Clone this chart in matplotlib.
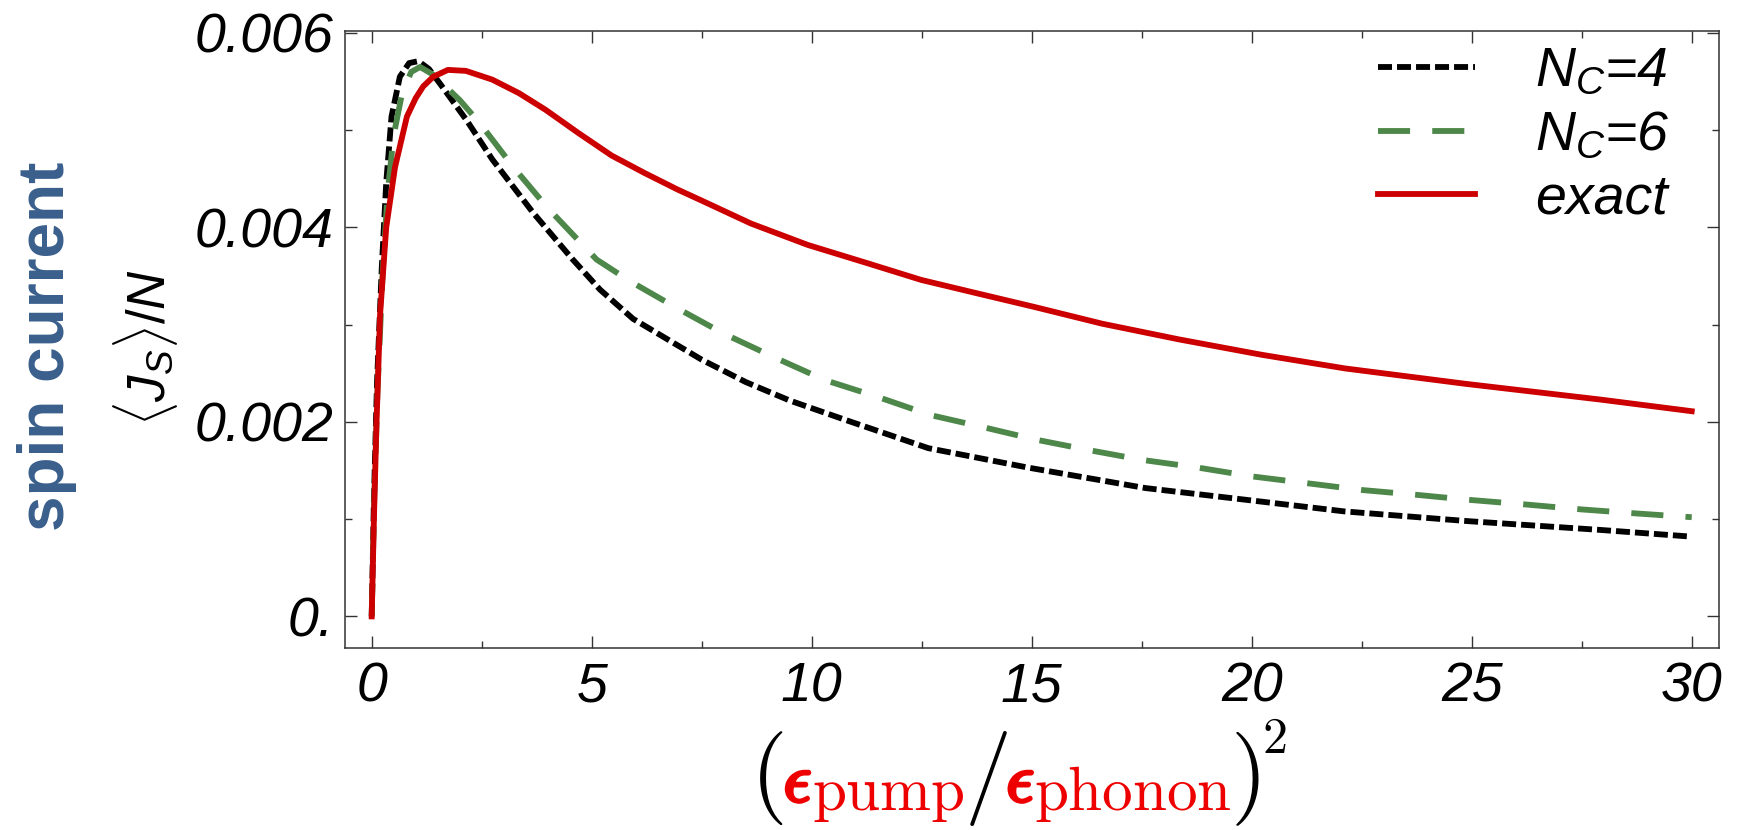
import numpy as np
import matplotlib; matplotlib.use("Agg")
import matplotlib.pyplot as plt
import matplotlib.patheffects as pe

plt.rcParams['font.family'] = 'Liberation Sans'
plt.rcParams['mathtext.fontset'] = 'custom'
plt.rcParams['mathtext.it'] = 'Liberation Sans:italic'
plt.rcParams['mathtext.rm'] = 'Liberation Sans'
plt.rcParams['mathtext.sf'] = 'Liberation Sans'

# N_C = 4 (black, short dashes); y in units of 1e-3
x_nc4 = [0, 0.05, 0.12, 0.23, 0.33, 0.45, 0.64, 0.85, 1.06, 1.3, 1.55, 2.16, 2.74, 3.67,
         4.55, 5.19, 5.94, 6.98, 7.5, 8.5, 9.5, 10.77, 12.65, 14.92, 17.58, 19.85, 22.1,
         24.9, 27.9, 30]
y_nc4 = [0, 1.2, 2.4, 3.6, 4.46, 5.14, 5.55, 5.69, 5.71, 5.63, 5.48, 5.10, 4.70, 4.15,
         3.68, 3.36, 3.06, 2.78, 2.64, 2.41, 2.22, 2.02, 1.73, 1.53, 1.32, 1.20, 1.08,
         0.98, 0.89, 0.82]

# N_C = 6 (green, long dashes)
x_nc6 = [0, 0.05, 0.13, 0.25, 0.36, 0.5, 0.7, 0.9, 1.1, 1.4, 2.0, 2.46, 3.22, 3.98, 5.11,
         5.86, 6.9, 7.99, 9.17, 10.3, 11.48, 12.7, 13.86, 15.07, 16.3, 17.5, 18.78, 20.0,
         21.25, 22.5, 23.75, 24.9, 26.25, 27.5, 28.7, 30]
y_nc6 = [0, 1.1, 2.3, 3.55, 4.35, 4.95, 5.4, 5.6, 5.65, 5.57, 5.31, 5.07, 4.62, 4.21, 3.67,
         3.45, 3.18, 2.91, 2.66, 2.43, 2.26, 2.07, 1.95, 1.82, 1.71, 1.61, 1.53, 1.44,
         1.37, 1.30, 1.25, 1.20, 1.15, 1.10, 1.06, 1.02]

# exact (red, solid)
x_exact = [0, 0.05, 0.11, 0.19, 0.33, 0.53, 0.8, 1.0, 1.17, 1.4, 1.73, 2.14, 2.74, 3.35,
           3.95, 4.7, 5.45, 6.2, 6.95, 7.48, 8.62, 9.91, 11.28, 12.49, 13.78, 15.08, 16.6,
           18.33, 20.23, 22.12, 24.89, 27.92, 30]
y_exact = [0, 1.0, 2.0, 3.1, 4.0, 4.62, 5.14, 5.33, 5.45, 5.55, 5.62, 5.61, 5.52, 5.38,
           5.21, 4.97, 4.74, 4.56, 4.39, 4.28, 4.04, 3.82, 3.63, 3.46, 3.32, 3.18, 3.01,
           2.85, 2.69, 2.55, 2.39, 2.23, 2.11]

labels = [r'$N_C$=4', r'$N_C$=6', 'exact']
colors = ['black', '#4d8749', '#cc0000']

xticks = [0, 5, 10, 15, 20, 25, 30]
yticks = [0, 0.002, 0.004, 0.006]
ytick_labels = ['0.', '0.002', '0.004', '0.006']

W, H = 1740, 830
fig = plt.figure(figsize=(W/100, H/100), dpi=100)
ax = fig.add_axes([345/W, 1-648/H, (1719-345)/W, (648-31)/H])

lw = 4.2
ax.plot(x_nc4, np.array(y_nc4)*1e-3, color=colors[0], lw=lw, dashes=(2.4, 0.86), label=labels[0])
ax.plot(x_nc6, np.array(y_nc6)*1e-3, color=colors[1], lw=lw, dashes=(5.5, 3.8), label=labels[1])
ax.plot(x_exact, np.array(y_exact)*1e-3, color=colors[2], lw=lw, label=labels[2])

ax.set_xlim(-0.607, 30.62)
ax.set_ylim(-0.325e-3, 6.02e-3)
ax.set_xticks(xticks)
ax.set_xticks(np.arange(0, 30.1, 2.5), minor=True)
ax.set_yticks(yticks)
ax.set_yticklabels(ytick_labels)
ax.set_yticks(np.arange(0, 0.00601, 0.001), minor=True)
ax.tick_params(which='both', direction='in', top=True, right=True, width=1.0, color='#333333',
               labelsize=40)
ax.tick_params(which='major', length=8.6)
ax.tick_params(which='minor', length=4.7)
ax.tick_params(axis='x', pad=10)
ax.tick_params(axis='y', pad=8)
for lab in ax.get_xticklabels() + ax.get_yticklabels():
    lab.set_fontstyle('italic')
for sp in ax.spines.values():
    sp.set_linewidth(1.1); sp.set_color('#333333')

leg = ax.legend(loc='upper left', bbox_to_anchor=(0.7518, 0.975), frameon=False,
                prop={'size': 40, 'style': 'italic'}, handlelength=1.75, handletextpad=1.08,
                labelspacing=0.21, borderpad=0, borderaxespad=0)

fig.text(47/W, 1-346/H, 'spin current', rotation=90, fontsize=46, fontweight='bold',
         color='#3a5f8c', ha='center', va='center')
fig.text(146/W, 1-347/H, r'$\langle J_S\rangle/N$', rotation=90, fontsize=38,
         ha='center', va='center')

# x label built piece by piece so the parts can take their own colours
red = '#ee0000'
pieces = [(r'$($', 68, 'black', 0, 0, None),
          (r'$\epsilon$', 50, red, 0, 0, 2.4),
          (r'$\mathrm{pump}$', 44, red, 8, 0, None),
          (r'$/$', 68, 'black', 0, -2, None),
          (r'$\epsilon$', 50, red, 0, 0, 2.4),
          (r'$\mathrm{phonon}$', 44, red, 8, -2, None),
          (r'$)$', 68, 'black', 0, 2, None),
          (r'$2$', 36, 'black', -49, 0, None)]
renderer = fig.canvas.get_renderer()
x = 750
for s, size, col, dy, gap, stroke in pieces:
    t = fig.text(x/W, 1-(802+dy)/H, s, fontsize=size, color=col, math_fontfamily='cm',
                 ha='left', va='baseline')
    if stroke:
        t.set_path_effects([pe.withStroke(linewidth=stroke, foreground=col)])
    x = t.get_window_extent(renderer).x1 + gap

fig.savefig('out.png', dpi=100)
